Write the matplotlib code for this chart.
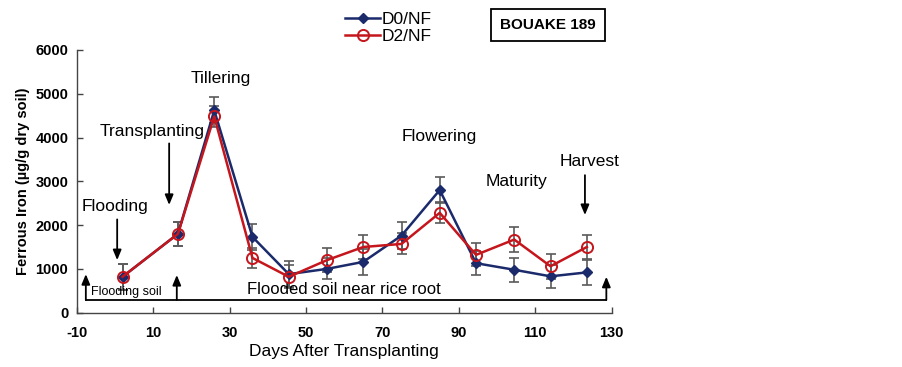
import matplotlib
matplotlib.use("Agg")
import matplotlib.pyplot as plt

plt.rcParams['font.family'] = ['Liberation Sans', 'DejaVu Sans']
plt.rcParams['axes.unicode_minus'] = False

days = [2, 16.5, 26, 36, 45.5, 55.5, 65, 75, 85, 94.5, 104.5, 114, 123.5]
d0_nf = [820, 1800, 4620, 1730, 880, 1000, 1160, 1760, 2800, 1130, 980, 830, 920]
d0_err = [300, 280, 300, 300, 300, 240, 300, 310, 300, 270, 280, 260, 280]
d2_nf = [820, 1800, 4480, 1250, 820, 1200, 1500, 1570, 2280, 1320, 1670, 1060, 1500]
d2_err = [300, 280, 250, 230, 260, 270, 270, 240, 240, 260, 280, 280, 270]
x_ticks = [-10, 10, 30, 50, 70, 90, 110, 130]
y_ticks = [0, 1000, 2000, 3000, 4000, 5000, 6000]

navy = '#1B2A6B'
red = '#C4161C'
gray = '#5A5A5A'

fig = plt.figure(figsize=(9.03, 3.67), dpi=100)
ax = fig.add_axes([0.0849, 0.148, 0.5925, 0.716])

ax.errorbar(days, d0_nf, yerr=d0_err, fmt='none', ecolor=gray, elinewidth=1.2, capsize=3.5, capthick=1.2, zorder=2)
ax.errorbar(days, d2_nf, yerr=d2_err, fmt='none', ecolor=gray, elinewidth=1.2, capsize=3.5, capthick=1.2, zorder=2)
ax.plot(days, d0_nf, color=navy, lw=1.8, marker='D', ms=5.5, mfc=navy, mec=navy, label='D0/NF', zorder=3)
ax.plot(days, d2_nf, color=red, lw=1.8, marker='o', ms=8, mfc='none', mec=red, mew=1.4, label='D2/NF', zorder=4)

ax.set_xlim(-10, 130)
ax.set_ylim(0, 6000)
ax.set_xticks(x_ticks)
ax.set_yticks(y_ticks)
ax.tick_params(direction='in', length=4, width=1, color='#444444', labelsize=10.5)
ax.tick_params(axis='x', pad=9.5)
ax.tick_params(axis='y', pad=6)
for lbl in ax.get_xticklabels() + ax.get_yticklabels():
    lbl.set_fontweight('bold')
for s in ['top', 'right']:
    ax.spines[s].set_visible(False)
for s in ['left', 'bottom']:
    ax.spines[s].set_color('#444444')
    ax.spines[s].set_linewidth(1)
ax.set_xlabel('Days After Transplanting', fontsize=12.5, labelpad=3)
ax.set_ylabel('Ferrous Iron (µg/g dry soil)', fontsize=10.5, fontweight='bold', labelpad=4)

# stage annotations
ax.text(27.7, 5350, 'Tillering', fontsize=12.5, ha='center', va='center')
ax.text(9.7, 4145, 'Transplanting', fontsize=12.5, ha='center', va='center')
ax.text(0, 2435, 'Flooding', fontsize=12.5, ha='center', va='center')
ax.text(85, 4030, 'Flowering', fontsize=12.5, ha='center', va='center')
ax.text(105, 3005, 'Maturity', fontsize=12.5, ha='center', va='center')
ax.text(124.2, 3460, 'Harvest', fontsize=12.5, ha='center', va='center')

arrow_kw = dict(arrowstyle='-|>,head_length=0.6,head_width=0.25', color='black', lw=1.3, shrinkA=0, shrinkB=0)
ax.annotate('', xy=(0.6, 1200), xytext=(0.6, 2130), arrowprops=arrow_kw)
ax.annotate('', xy=(14.2, 2460), xytext=(14.2, 3865), arrowprops=arrow_kw)
ax.annotate('', xy=(123.0, 2230), xytext=(123.0, 3140), arrowprops=arrow_kw)

# bottom bracket
ax.plot([-7.6, 128.6], [290, 290], color='black', lw=1.3, clip_on=False)
ax.annotate('', xy=(-7.6, 880), xytext=(-7.6, 290), arrowprops=arrow_kw, annotation_clip=False)
ax.annotate('', xy=(16.2, 860), xytext=(16.2, 290), arrowprops=arrow_kw, annotation_clip=False)
ax.annotate('', xy=(128.6, 820), xytext=(128.6, 290), arrowprops=arrow_kw, annotation_clip=False)
ax.text(2.9, 470, 'Flooding soil', fontsize=9, ha='center', va='center')
ax.text(60, 520, 'Flooded soil near rice root', fontsize=12, ha='center', va='center')

fig.legend(loc='upper left', bbox_to_anchor=(0.367, 1.005), frameon=False, fontsize=12.5,
           handlelength=2.0, handletextpad=0.1, labelspacing=0.12, borderpad=0.3)

fig.text(0.607, 0.932, 'BOUAKE 189', fontsize=11, fontweight='bold', ha='center', va='center',
         bbox=dict(boxstyle='square,pad=0.6', fc='white', ec='black', lw=1.3))

fig.savefig('out.png', dpi=100)
